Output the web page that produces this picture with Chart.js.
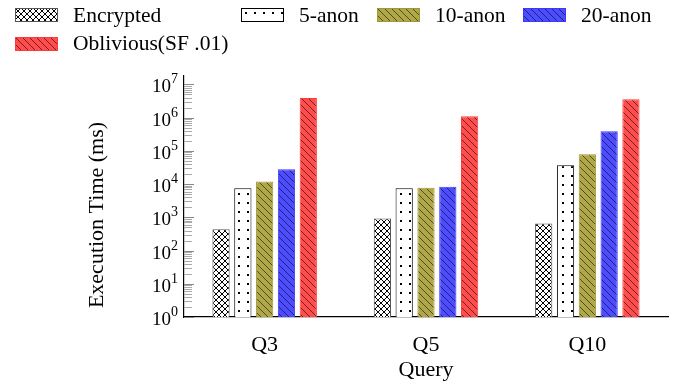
<!DOCTYPE html>
<html>
<head>
<meta charset="utf-8">
<script src="https://cdn.jsdelivr.net/npm/chart.js@4.4.1/dist/chart.umd.min.js"></script>
<style>
  html, body { margin: 0; padding: 0; background: #fff; }
  #wrap { position: relative; width: 686px; height: 385px; }
  #legend {
    position: absolute; left: 15px; top: 1px;
    display: grid; grid-template-columns: 226px 136px 146px auto;
    font: 21.5px 'Liberation Serif', serif; color: #000;
  }
  .item { display: flex; align-items: center; height: 28.5px; white-space: nowrap; }
  .item canvas { margin-right: 15px; display: block; }
</style>
</head>
<body>
<div id="wrap">
  <canvas id="chart" width="686" height="385"></canvas>
  <div id="legend"></div>
</div>
<script>
const categories = ['Q3', 'Q5', 'Q10'];
const seriesNames = ['Encrypted', '5-anon', '10-anon', '20-anon', 'Oblivious(SF .01)'];
const encrypted = [440, 920, 650];
const anon5 = [7500, 7500, 37000];
const anon10 = [12000, 7800, 79000];
const anon20 = [28000, 8400, 390000];
const oblivious = [3900000, 1100000, 3600000];
const yExponents = [0, 1, 2, 3, 4, 5, 6, 7];

const FONT = "'Liberation Serif', serif";

// small tiles used as fill patterns
function makePattern(kind, bg) {
  const c = document.createElement('canvas');
  const g = c.getContext('2d');
  if (kind === 'cross') {
    c.width = 6; c.height = 6;
    g.fillStyle = bg; g.fillRect(0, 0, 6, 6);
    g.strokeStyle = '#000'; g.lineWidth = 1;
    g.beginPath();
    g.moveTo(0, 0); g.lineTo(6, 6);
    g.moveTo(6, 0); g.lineTo(0, 6);
    g.stroke();
  } else if (kind === 'dots') {
    c.width = 9; c.height = 9;
    g.fillStyle = bg; g.fillRect(0, 0, 9, 9);
    g.fillStyle = '#000'; g.fillRect(4, 4, 2, 2);
  } else {
    c.width = 7; c.height = 7;
    g.fillStyle = bg; g.fillRect(0, 0, 7, 7);
    g.strokeStyle = 'rgba(0,0,0,0.55)'; g.lineWidth = 1;
    g.beginPath();
    g.moveTo(-1, -1); g.lineTo(8, 8);
    g.moveTo(-1, 6); g.lineTo(1, 8);
    g.moveTo(6, -1); g.lineTo(8, 1);
    g.stroke();
  }
  return document.getElementById('chart').getContext('2d').createPattern(c, 'repeat');
}

const styles = [
  { kind: 'cross', bg: '#fff', border: '#555' },
  { kind: 'dots', bg: '#fff', border: '#000' },
  { kind: 'lines', bg: '#b0a848', border: '#a09830' },
  { kind: 'lines', bg: '#4d4dff', border: '#3a3aff' },
  { kind: 'lines', bg: '#ff4d4d', border: '#ff3a3a' }
];
const values = [encrypted, anon5, anon10, anon20, oblivious];

const datasets = seriesNames.map((name, i) => ({
  label: name,
  data: values[i],
  backgroundColor: makePattern(styles[i].kind, styles[i].bg),
  borderColor: styles[i].border,
  borderWidth: 1,
  barPercentage: 0.79,
  categoryPercentage: 0.676
}));

const logAxis = {
  id: 'logAxis',
  afterDraw(chart) {
    const ctx = chart.ctx;
    const y = chart.scales.y;
    const left = chart.chartArea.left;
    ctx.save();
    ctx.lineWidth = 1;
    for (let e = 0; e < yExponents.length; e++) {
      for (let m = 1; m <= 9; m++) {
        const v = m * Math.pow(10, yExponents[e]);
        if (v > y.max) break;
        const py = Math.round(y.getPixelForValue(v)) + 0.5;
        ctx.strokeStyle = m === 1 ? '#888' : '#aaa';
        ctx.beginPath();
        ctx.moveTo(left, py);
        ctx.lineTo(left + (m === 1 ? 10 : 8), py);
        ctx.stroke();
      }
    }
    ctx.fillStyle = '#000';
    ctx.textBaseline = 'alphabetic';
    yExponents.forEach(e => {
      const py = y.getPixelForValue(Math.pow(10, e));
      ctx.font = '14px ' + FONT;
      const ew = ctx.measureText(String(e)).width;
      const right = left - 6;
      ctx.textAlign = 'left';
      ctx.fillText(String(e), right - ew, py - 1);
      ctx.font = '19px ' + FONT;
      ctx.textAlign = 'right';
      ctx.fillText('10', right - ew, py + 8);
    });
    // y axis title
    ctx.font = '22px ' + FONT;
    ctx.textAlign = 'center';
    ctx.textBaseline = 'middle';
    ctx.translate(97, 215);
    ctx.rotate(-Math.PI / 2);
    ctx.fillText('Execution Time (ms)', 0, 0);
    ctx.restore();
  }
};

const chart = new Chart(document.getElementById('chart'), {
  type: 'bar',
  data: { labels: categories, datasets: datasets },
  options: {
    responsive: false,
    animation: false,
    devicePixelRatio: 1,
    layout: { padding: { top: 76, right: 18, left: 72, bottom: 0 } },
    plugins: { legend: { display: false }, tooltip: { enabled: false } },
    scales: {
      x: {
        grid: { display: false },
        border: { color: '#000', width: 1.2 },
        ticks: { color: '#000', font: { family: FONT, size: 22 }, padding: 7 },
        title: { display: true, text: 'Query', color: '#000', font: { family: FONT, size: 22 }, padding: { top: 0, bottom: 2 } },
        afterFit(scale) { scale.height = 68; }
      },
      y: {
        type: 'logarithmic',
        min: 1,
        max: 1.8e7,
        grid: { display: false },
        border: { color: '#000', width: 1.2 },
        ticks: { display: false },
        afterFit(scale) { scale.width = 112; }
      }
    }
  },
  plugins: [logAxis]
});

// legend laid out in four columns like the original
const legend = document.getElementById('legend');
datasets.forEach((ds, i) => {
  const item = document.createElement('div');
  item.className = 'item';
  const sw = document.createElement('canvas');
  sw.width = 43; sw.height = 14;
  const g = sw.getContext('2d');
  g.fillStyle = ds.backgroundColor;
  g.fillRect(0, 0, 43, 14);
  g.strokeStyle = ds.borderColor;
  g.lineWidth = 1;
  g.strokeRect(0.5, 0.5, 42, 13);
  const label = document.createElement('span');
  label.textContent = ds.label;
  item.appendChild(sw);
  item.appendChild(label);
  legend.appendChild(item);
});
</script>
</body>
</html>
